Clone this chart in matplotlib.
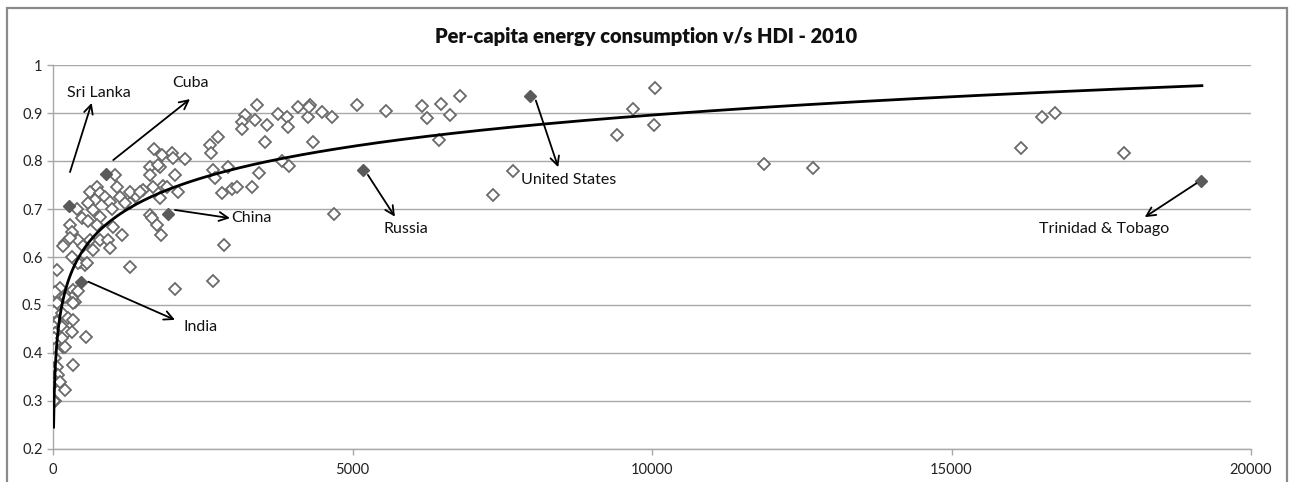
import numpy as np
import matplotlib
matplotlib.use("Agg")
import matplotlib.pyplot as plt
from matplotlib.patches import Rectangle

# ---------------- data ----------------
other_x = [6155, 6239, 6472, 6628, 6795, 6449, 7675, 7341, 9410, 9678, 10050, 10038,
           11875, 12693, 16155, 16505, 16733, 17880,
           3400, 3205, 3149, 3371, 3149, 3567, 3760, 3900, 3927, 4084, 4289, 4261, 4278,
           4485, 4662, 5069, 5558, 3538, 4334, 3817, 3944, 3443, 2759, 2620, 2637, 2675,
           2704, 2926, 2816, 2982, 3066, 3316, 4690, 1686, 1814, 1981, 2008, 2203, 1619,
           1786, 1619, 2036, 1841, 1674, 1786, 2091, 1507, 1385, 1285, 1619, 1647, 1731,
           1798, 2859, 2675, 2036, 1285, 1757, 1898,
           1035, 729, 618, 784, 701, 589, 868, 951, 1063, 1118, 1285, 1452, 1202, 980,
           396, 673, 784, 479, 284, 589, 729, 1006, 1147, 312, 422, 200, 172, 618, 784,
           923, 506, 673, 951, 312, 451, 534, 62, 284, 422, 562, 367, 200, 339, 551, 33,
           172,
           339, 422, 312, 339, 117, 33, 200, 62, 15, 145, 255, 339, 62, 15, 145, 229, 312,
           33, 15, 145, 200, 33, 62, 10, 15, 88, 10, 15, 117, 15]
other_y = [0.915, 0.890, 0.919, 0.896, 0.936, 0.844, 0.779, 0.729, 0.854, 0.909, 0.953, 0.876,
           0.794, 0.786, 0.828, 0.892, 0.901, 0.817,
           0.917, 0.896, 0.882, 0.885, 0.866, 0.875, 0.898, 0.892, 0.871, 0.913, 0.917, 0.892, 0.913,
           0.902, 0.892, 0.917, 0.904, 0.839, 0.839, 0.799, 0.790, 0.774, 0.851, 0.833, 0.816, 0.781,
           0.764, 0.787, 0.734, 0.741, 0.746, 0.745, 0.689, 0.824, 0.8125, 0.816, 0.806, 0.804, 0.787,
           0.787, 0.771, 0.771, 0.748, 0.745, 0.722, 0.735, 0.740, 0.727, 0.712, 0.688, 0.681, 0.667,
           0.646, 0.624, 0.550, 0.533, 0.580, 0.792, 0.746,
           0.771, 0.746, 0.736, 0.733, 0.719, 0.712, 0.726, 0.715, 0.746, 0.726, 0.736, 0.736, 0.712, 0.701,
           0.701, 0.698, 0.684, 0.681, 0.667, 0.674, 0.667, 0.663, 0.646, 0.653, 0.635, 0.629, 0.622, 0.635, 0.635,
           0.635, 0.622, 0.615, 0.618, 0.601, 0.590, 0.583, 0.573, 0.639, 0.587, 0.587, 0.507, 0.323, 0.375, 0.433, 0.299,
           0.413,
           0.531, 0.530, 0.514, 0.504, 0.535, 0.528, 0.517, 0.504, 0.486, 0.483, 0.472, 0.469, 0.465, 0.455, 0.455, 0.444, 0.444,
           0.441, 0.431, 0.431, 0.413, 0.389, 0.371, 0.361, 0.351, 0.354, 0.344, 0.337, 0.340, 0.299]

named_countries = ["Sri Lanka", "Cuba", "China", "India", "Russia", "United States",
                   "Trinidad & Tobago"]
named_x = [267, 885, 1920, 467, 5175, 7963, 19165]
named_y = [0.706, 0.773, 0.690, 0.548, 0.781, 0.935, 0.758]

# logarithmic trendline y = a*ln(x) + b
trend_a = 0.0941
trend_b = 0.029
trend_x_range = [10, 19180]

title = "Per-capita energy consumption v/s HDI - 2010"
x_ticks = [0, 5000, 10000, 15000, 20000]
y_ticks = [0.2, 0.3, 0.4, 0.5, 0.6, 0.7, 0.8, 0.9, 1.0]
y_tick_labels = ["0.2", "0.3", "0.4", "0.5", "0.6", "0.7", "0.8", "0.9", "1"]

# ---------------- layout of the annotations ----------------
label_layout = {
    # name: (text_x, text_y, arrow_tail, arrow_head)
    "Sri Lanka": (234, 0.942, (284, 0.777), (646, 0.921)),
    "Cuba": (1986, 0.9625, (1006, 0.802), (2287, 0.929)),
    "China": (2983, 0.681, (2036, 0.698), (2954, 0.681)),
    "India": (2186, 0.454, (589, 0.5485), (2036, 0.469)),
    "Russia": (5524, 0.658, (5257, 0.771), (5708, 0.684)),
    "United States": (7806, 0.760, (8061, 0.926), (8434, 0.787)),
    "Trinidad & Tobago": (16456, 0.658, (19088, 0.7535), (18226, 0.683)),
}

plt.rcParams['font.family'] = ['Lato', 'DejaVu Sans']

fig = plt.figure(figsize=(12.93, 4.82), dpi=100)
ax = fig.add_axes([53 / 1293, 33 / 482, 1198 / 1293, 384 / 482])

grid_c = "#a8a8a8"
ax.set_xlim(0, 20000)
ax.set_ylim(0.2, 1.0)
ax.set_yticks(y_ticks)
ax.set_yticklabels(y_tick_labels)
ax.set_xticks(x_ticks)
ax.yaxis.grid(True, color=grid_c, linewidth=1.0)
ax.set_axisbelow(True)
for s in ["top", "right"]:
    ax.spines[s].set_visible(False)
for s in ["left", "bottom"]:
    ax.spines[s].set_color(grid_c)
    ax.spines[s].set_linewidth(1.0)
ax.tick_params(axis="both", colors=grid_c, length=4, width=1.0, labelsize=10.5,
               labelcolor="#222222")
ax.tick_params(axis="x", pad=6)

ax.plot(other_x, other_y, linestyle="none", marker="D", markersize=6,
        markerfacecolor="white", markeredgecolor="#6a6a6a", markeredgewidth=1.3, zorder=3)
ax.plot(named_x, named_y, linestyle="none", marker="D", markersize=6,
        markerfacecolor="#5a5a5a", markeredgecolor="#5a5a5a", markeredgewidth=1.0, zorder=4)

tx = np.linspace(trend_x_range[0], trend_x_range[1], 2000)
ax.plot(tx, trend_a * np.log(tx) + trend_b, color="black", linewidth=2.0, zorder=5)

for name in named_countries:
    tx_, ty_, tail, head = label_layout[name]
    ax.annotate("", xy=head, xytext=tail,
                arrowprops=dict(arrowstyle="->", color="black", lw=1.3,
                                mutation_scale=16, shrinkA=0, shrinkB=0), zorder=6)
    ax.text(tx_, ty_, name, fontsize=11.5, color="#111111", ha="left", va="center", zorder=6)

fig.text(646 / 1293, 1 - 37 / 482, title, ha="center", va="center",
         fontsize=14.5, fontweight="heavy", color="#111111")

fig.patches.append(Rectangle((7 / 1293, -0.01), 1280 / 1293, 1 - 8 / 482 + 0.01,
                             transform=fig.transFigure, fill=False,
                             edgecolor="#8a8a8a", linewidth=1.6))

fig.savefig("out.png", dpi=100)
